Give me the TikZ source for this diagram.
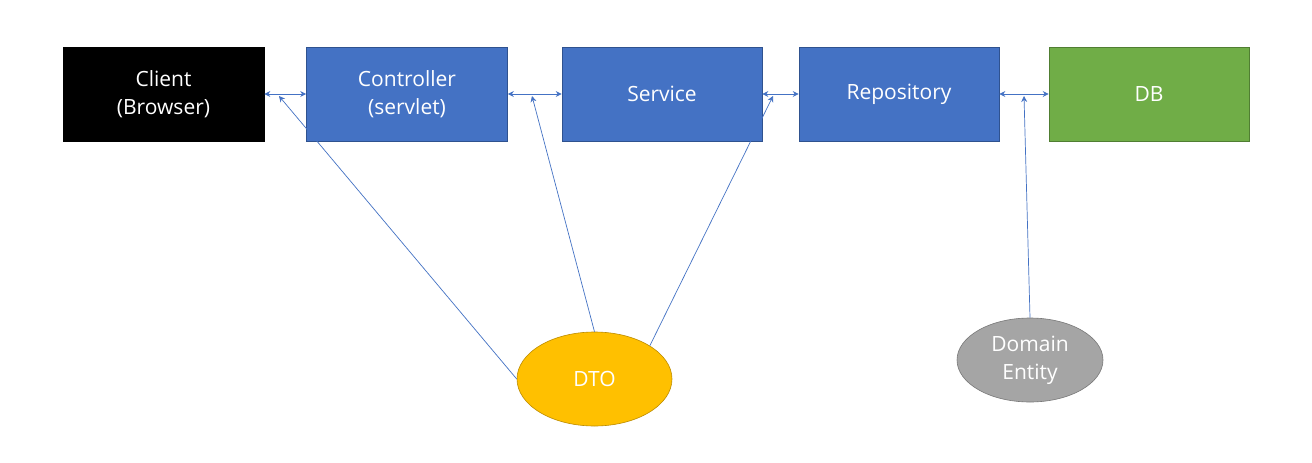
\documentclass[tikz,border=0pt]{standalone}
\usepackage{fontspec}
\setmainfont{Open Sans}
\usetikzlibrary{arrows.meta,shapes.geometric}
\definecolor{obl}{HTML}{4472C4}
\definecolor{obld}{HTML}{2F528F}
\definecolor{ogr}{HTML}{70AD47}
\definecolor{ogrd}{HTML}{507E32}
\definecolor{ogo}{HTML}{FFC000}
\definecolor{ogod}{HTML}{BC8C00}
\definecolor{oga}{HTML}{A5A5A5}
\definecolor{ogad}{HTML}{787878}
\begin{document}
\begin{tikzpicture}[x=1pt,y=-1pt,
  box/.style={rectangle,minimum width=200pt,minimum height=94pt,inner sep=0pt,
    text=white,align=center,font=\fontsize{21}{28}\selectfont,line width=0.6pt},
  oval/.style={ellipse,inner sep=0pt,text=white,align=center,
    font=\fontsize{21}{28}\selectfont,line width=0.6pt},
  conn/.style={draw=obl,line width=0.8pt,{Stealth[length=6pt,width=6pt]}-{Stealth[length=6pt,width=6pt]}},
  feed/.style={draw=obl,line width=0.7pt,-{Stealth[length=6pt,width=6pt]}}]
\useasboundingbox (0,0) rectangle (1312,463);
\fill[white] (0,0) rectangle (1312,463);
\node[box,fill=black,draw=black,minimum width=201pt] (client) at (163.5,94) {Client\\(Browser)};
\node[box,fill=obl,draw=obld,minimum width=201pt] (ctrl) at (407,94) {Controller\\(servlet)};
\node[box,fill=obl,draw=obld] (svc) at (662,94) {Service};
\node[box,fill=obl,draw=obld] (repo) at (899,94) {Repository};
\node[box,fill=ogr,draw=ogrd] (db) at (1149,94) {DB};
\node[oval,fill=ogo,draw=ogod,minimum width=155pt,minimum height=94pt] (dto) at (594.5,379) {DTO};
\node[oval,fill=oga,draw=ogad,minimum width=146pt,minimum height=84pt] (dom) at (1030,360) {Domain\\Entity};
\draw[conn] (client.east) -- (ctrl.west);
\draw[conn] (ctrl.east) -- (svc.west);
\draw[conn] (svc.east) -- (repo.west);
\draw[conn] (repo.east) -- (db.west);
\coordinate (c1) at (279,96);
\coordinate (c2) at (532,96);
\coordinate (c3) at (773,96);
\coordinate (c4) at (1024,96);
\draw[feed] (dto.west) -- (c1);
\draw[feed] (dto.north) -- (c2);
\draw[feed] (dto.31) -- (c3);
\draw[feed] (dom.north) -- (c4);
\end{tikzpicture}
\end{document}
